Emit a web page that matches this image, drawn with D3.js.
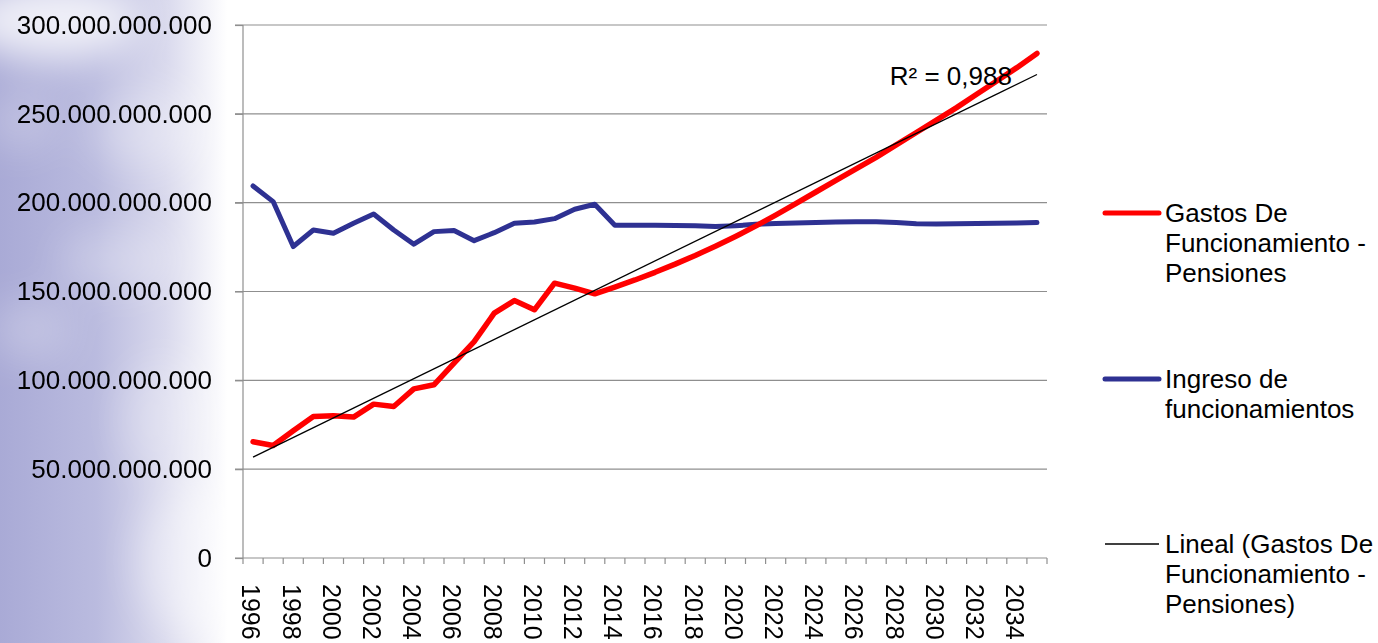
<!DOCTYPE html>
<html>
<head>
<meta charset="utf-8">
<script src="https://cdn.jsdelivr.net/npm/d3@7"></script>
<style>
  html, body { margin: 0; padding: 0; background: #fff; }
  svg { display: block; font-family: "Liberation Sans", Arial, sans-serif; }
</style>
</head>
<body>
<div id="chart"></div>
<script>
// years 1996..2035, one category per year
const YEARS = d3.range(1996, 2036);

// Gastos De Funcionamiento - Pensiones (billions)
const GASTOS = [
  65.4, 63.3, 71.6, 79.6, 80.0, 79.3, 86.6, 85.3, 95.2, 97.5,
  109.7, 121.8, 137.8, 144.9, 139.7, 154.7, 151.9, 148.7, 152.5, 156.5,
  160.8, 165.4, 170.3, 175.5, 181.0, 186.8, 193.0, 199.5, 206.0, 212.5,
  219.0, 225.5, 232.5, 239.5, 246.5, 253.5, 261.0, 268.5, 276.0, 284.0
];

// Ingreso de funcionamientos (billions)
const INGRESO = [
  209.4, 200.6, 175.3, 184.6, 182.8, 188.4, 193.6, 184.6, 176.6, 183.7,
  184.3, 178.6, 183.1, 188.4, 189.1, 191.0, 196.3, 199.1, 187.3, 187.3,
  187.3, 187.2, 187.0, 186.6, 187.0, 187.8, 188.3, 188.6, 188.9, 189.1,
  189.3, 189.2, 188.9, 188.2, 188.0, 188.1, 188.3, 188.4, 188.5, 188.8
];

const Y_TICKS = [0, 50, 100, 150, 200, 250, 300];
const R2_LABEL = 'R² = 0,988';

const LEGEND = [
  { lines: ['Gastos De', 'Funcionamiento -', 'Pensiones'], color: '#ff0000', width: 5 },
  { lines: ['Ingreso de', 'funcionamientos'], color: '#2e3192', width: 5 },
  { lines: ['Lineal (Gastos De', 'Funcionamiento -', 'Pensiones)'], color: '#000', width: 1.3 },
];

const W = 1378, H = 643;
const plot = { left: 243, right: 1047, top: 25, bottom: 558 };

const svg = d3.select('#chart').append('svg')
  .attr('width', W).attr('height', H);

// slide background: soft bluish cloud on the left
const defs = svg.append('defs');
const grad = defs.append('linearGradient').attr('id', 'bg')
  .attr('x1', 0).attr('x2', 1).attr('y1', 0).attr('y2', 0);
grad.append('stop').attr('offset', '0%').attr('stop-color', '#a9aad6');
grad.append('stop').attr('offset', '7%').attr('stop-color', '#babbdf');
grad.append('stop').attr('offset', '12%').attr('stop-color', '#d9d9ed');
grad.append('stop').attr('offset', '16.5%').attr('stop-color', '#ffffff');
const blur = defs.append('filter').attr('id', 'blur')
  .attr('x', '-50%').attr('y', '-50%').attr('width', '200%').attr('height', '200%');
blur.append('feGaussianBlur').attr('stdDeviation', 20);

svg.append('rect').attr('width', W).attr('height', H).attr('fill', 'url(#bg)');
const clouds = svg.append('g').attr('filter', 'url(#blur)');
[[50, 20, 90, 40, 0.8], [150, 130, 60, 40, 0.3], [20, 120, 35, 30, 0.25],
 [120, 260, 60, 30, 0.25], [30, 330, 40, 30, 0.25], [170, 420, 50, 60, 0.25],
 [200, 560, 60, 80, 0.45]]
  .forEach(([cx, cy, rx, ry, o]) => {
    clouds.append('ellipse').attr('cx', cx).attr('cy', cy)
      .attr('rx', rx).attr('ry', ry).attr('fill', '#fff').attr('opacity', o);
  });
svg.append('rect').attr('x', plot.left).attr('y', 0)
  .attr('width', W - plot.left).attr('height', H).attr('fill', '#fff');

const x = d3.scaleBand().domain(YEARS).range([plot.left, plot.right]);
const cx = d => x(d) + x.bandwidth() / 2;
const y = d3.scaleLinear().domain([0, 300]).range([plot.bottom, plot.top]);

const locale = d3.formatLocale({ decimal: ',', thousands: '.', grouping: [3], currency: ['', ''] });
const fmt = locale.format(',');

// gridlines
svg.append('g').selectAll('line').data(Y_TICKS.filter(d => d > 0)).join('line')
  .attr('x1', plot.left - 8).attr('x2', plot.right)
  .attr('y1', d => y(d)).attr('y2', d => y(d))
  .attr('stroke', '#8f8f8f').attr('stroke-width', 1.2);

// y axis
const yAxis = svg.append('g')
  .attr('transform', `translate(${plot.left},0)`)
  .call(d3.axisLeft(y).tickValues(Y_TICKS).tickSize(8).tickPadding(23)
    .tickFormat(d => fmt(d * 1e9)));
yAxis.select('.domain').attr('stroke', '#8f8f8f').attr('stroke-width', 1.2)
  .attr('d', `M0,${plot.top}V${plot.bottom}`);
yAxis.selectAll('.tick line').attr('stroke', '#8f8f8f').attr('stroke-width', 1.2);
yAxis.selectAll('.tick text').attr('font-size', 26).attr('fill', '#000')
  .attr('font-family', '"Liberation Sans", Arial, sans-serif');

// x axis
const xg = svg.append('g');
xg.append('line').attr('x1', plot.left - 8).attr('x2', plot.right)
  .attr('y1', plot.bottom).attr('y2', plot.bottom)
  .attr('stroke', '#8f8f8f').attr('stroke-width', 1.2);
xg.selectAll('line.tk').data(YEARS.concat([null])).join('line').attr('class', 'tk')
  .attr('x1', d => d === null ? plot.right : x(d))
  .attr('x2', d => d === null ? plot.right : x(d))
  .attr('y1', plot.bottom).attr('y2', plot.bottom + 6)
  .attr('stroke', '#8f8f8f').attr('stroke-width', 1.2);
xg.selectAll('text').data(YEARS.filter((d, i) => i % 2 === 0)).join('text')
  .attr('transform', d => `translate(${cx(d) - 2},${plot.bottom + 26}) rotate(90)`)
  .attr('dy', '0.35em')
  .attr('font-size', 25).attr('fill', '#000')
  .text(d => d);

// series
const line = d3.line().x((d, i) => cx(YEARS[i])).y(d => y(d));
svg.append('path').datum(INGRESO).attr('d', line)
  .attr('fill', 'none').attr('stroke', '#2e3192').attr('stroke-width', 5)
  .attr('stroke-linejoin', 'round').attr('stroke-linecap', 'round');
svg.append('path').datum(GASTOS).attr('d', line)
  .attr('fill', 'none').attr('stroke', '#ff0000').attr('stroke-width', 5.5)
  .attr('stroke-linejoin', 'round').attr('stroke-linecap', 'round');

// linear trend of GASTOS (least squares on the category index)
const n = GASTOS.length;
const idx = d3.range(n);
const mx = d3.mean(idx), my = d3.mean(GASTOS);
const slope = d3.sum(idx, i => (i - mx) * (GASTOS[i] - my)) / d3.sum(idx, i => (i - mx) ** 2);
const icpt = my - slope * mx;
const trend = [icpt, icpt + slope * (n - 1)];
svg.append('line')
  .attr('x1', cx(YEARS[0])).attr('y1', y(trend[0]))
  .attr('x2', cx(YEARS[n - 1])).attr('y2', y(trend[1]))
  .attr('stroke', '#000').attr('stroke-width', 1.3);
svg.append('text')
  .attr('x', cx(YEARS[n - 1]) - 25).attr('y', y(trend[1]) + 11)
  .attr('text-anchor', 'end').attr('font-size', 26).attr('fill', '#000')
  .text(R2_LABEL);

// legend
const legendTops = [213, 379, 544];
const lg = svg.append('g').selectAll('g').data(LEGEND).join('g')
  .attr('transform', (d, i) => `translate(0,${legendTops[i]})`);
lg.append('line').attr('x1', 1105).attr('x2', 1159).attr('y1', 0).attr('y2', 0)
  .attr('stroke', d => d.color).attr('stroke-width', d => d.width)
  .attr('stroke-linecap', d => d.width > 2 ? 'round' : 'butt');
lg.append('text').attr('x', 1165).attr('y', 0).attr('font-size', 26).attr('fill', '#000')
  .selectAll('tspan').data(d => d.lines).join('tspan')
  .attr('x', 1165).attr('dy', (d, i) => i === 0 ? '0.36em' : 30)
  .text(d => d);
</script>
</body>
</html>
